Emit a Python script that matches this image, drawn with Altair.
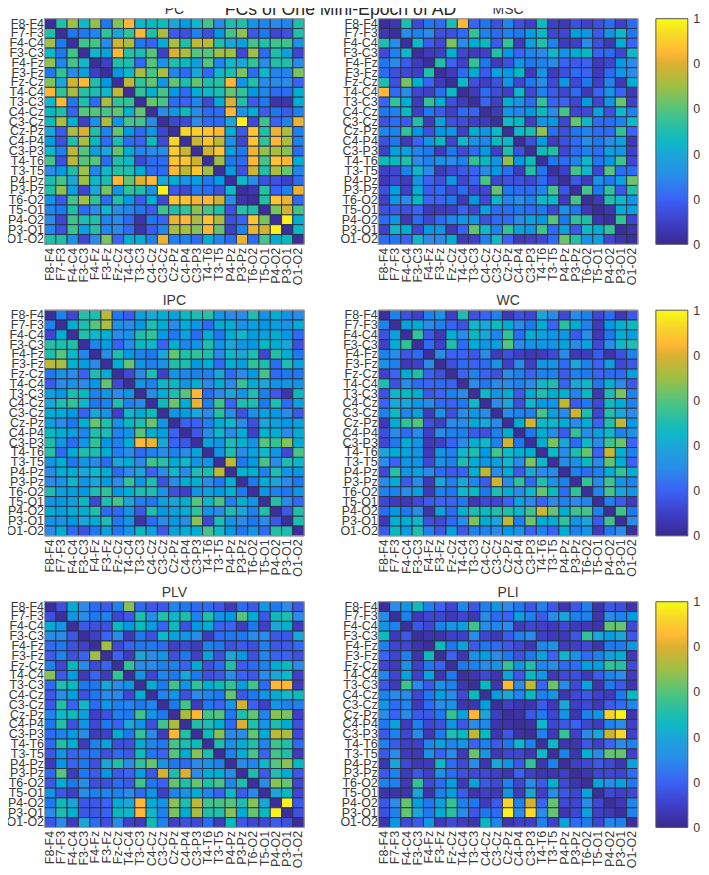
import altair as alt
import pandas as pd

CH = ["F8-F4","F7-F3","F4-C4","F3-C3","F4-Fz","F3-Fz","Fz-Cz","T4-C4","T3-C3","C4-Cz","C3-Cz","Cz-Pz","C4-P4","C3-P3","T4-T6","T3-T5","P4-Pz","P3-Pz","T6-O2","T5-O1","P4-O2","P3-O1","O1-O2"]

# Upper triangles
PC = [
[.52,.70,.45,.68,.25,.66,.85,.45,.47,.48,.40,.36,.45,.58,.30,.50,.52,.33,.28,.30,.28,.52],
[.25,.25,.28,.55,.40,.55,.85,.52,.72,.18,.15,.27,.15,.35,.58,.68,.17,.25,.12,.15,.52],
[.57,.58,.30,.78,.72,.25,.20,.42,.72,.52,.75,.75,.52,.40,.38,.58,.52,.57,.57,.32],
[.45,.38,.85,.53,.50,.60,.10,.80,.72,.60,.60,.70,.70,.12,.70,.22,.50,.38,.12],
[.10,.52,.50,.22,.60,.32,.52,.47,.38,.60,.28,.45,.40,.55,.30,.52,.52,.30],
[.35,.45,.72,.58,.72,.28,.22,.40,.22,.45,.50,.65,.22,.45,.28,.28,.65],
[.75,.55,.62,.33,.62,.50,.62,.52,.53,.85,.33,.52,.30,.30,.30,.20],
[.55,.43,.58,.35,.22,.42,.45,.50,.62,.55,.35,.28,.22,.22,.42],
[.62,.58,.22,.20,.28,.13,.42,.80,.52,.18,.25,.05,.05,.42],
[.30,.33,.48,.30,.22,.22,.85,.32,.42,.18,.25,.18,.27],
[.12,.13,.30,.22,.22,.40,.98,.13,.57,.20,.28,.82],
[.92,.90,.88,.85,.42,.17,.88,.52,.82,.72,.27],
[.77,.88,.75,.32,.12,.88,.55,.85,.72,.27],
[.78,.88,.37,.25,.83,.68,.72,.67,.22],
[.70,.25,.22,.85,.58,.88,.84,.42],
[.35,.15,.78,.52,.72,.62,.28],
[.45,.30,.15,.15,.10,.22],
[.05,.53,.20,.27,.82],
[.52,.88,.82,.22],
[.65,.78,.58],
[.98,.42],
[.47],
]
MSC = [
[.06,.50,.13,.25,.22,.50,.85,.20,.25,.15,.28,.15,.10,.48,.10,.07,.15,.10,.15,.22,.10,.22],
[.30,.27,.30,.15,.15,.22,.55,.27,.22,.27,.25,.37,.47,.12,.13,.37,.33,.18,.33,.45,.25],
[.45,.18,.13,.65,.30,.42,.47,.18,.55,.08,.38,.52,.27,.08,.10,.30,.15,.07,.42,.20],
[.08,.10,.43,.12,.08,.10,.52,.35,.20,.28,.30,.45,.33,.42,.47,.20,.22,.12,.45],
[.52,.20,.10,.55,.25,.08,.15,.33,.25,.27,.30,.20,.18,.20,.08,.12,.35,.30],
[.08,.22,.42,.18,.38,.35,.47,.08,.32,.08,.15,.22,.20,.08,.22,.33,.30],
[.45,.15,.10,.15,.33,.12,.25,.30,.13,.33,.13,.25,.10,.28,.07,.42],
[.08,.22,.14,.10,.45,.13,.27,.18,.12,.22,.07,.20,.33,.20,.07],
[.20,.10,.42,.32,.22,.55,.20,.20,.12,.35,.12,.33,.62,.10],
[.08,.33,.28,.35,.47,.30,.58,.12,.13,.38,.15,.45,.27],
[.45,.47,.10,.33,.35,.12,.62,.45,.22,.22,.27,.45],
[.45,.50,.68,.22,.15,.25,.28,.22,.22,.55,.20],
[.15,.35,.08,.15,.22,.30,.25,.30,.38,.07],
[.48,.52,.12,.22,.27,.22,.38,.33,.10],
[.25,.22,.28,.45,.25,.35,.57,.12],
[.10,.58,.45,.12,.60,.22,.22],
[.17,.08,.32,.25,.38,.63],
[.58,.25,.55,.17,.52],
[.07,.52,.45,.33],
[.06,.42,.38],
[.55,.12],
[.05],
]
IPC = [
[.27,.12,.52,.50,.75,.25,.18,.38,.40,.42,.38,.47,.50,.53,.33,.30,.30,.50,.33,.42,.33,.30],
[.42,.50,.60,.72,.32,.30,.35,.50,.42,.30,.42,.33,.22,.42,.42,.32,.38,.35,.37,.32,.42],
[.52,.45,.43,.30,.32,.50,.55,.35,.25,.38,.22,.42,.25,.42,.45,.37,.38,.42,.35,.22],
[.28,.37,.20,.30,.47,.45,.20,.43,.28,.33,.50,.33,.40,.33,.35,.47,.42,.40,.15],
[.30,.50,.35,.27,.25,.40,.62,.52,.55,.50,.30,.45,.40,.50,.12,.52,.42,.25],
[.42,.62,.33,.27,.32,.52,.50,.35,.42,.22,.42,.37,.55,.50,.22,.50,.38],
[.13,.30,.50,.10,.33,.28,.27,.27,.40,.22,.30,.35,.58,.22,.25,.25],
[.33,.27,.45,.47,.33,.42,.30,.42,.30,.55,.42,.40,.33,.33,.33],
[.30,.42,.50,.60,.85,.22,.30,.40,.33,.50,.27,.17,.05,.47],
[.48,.63,.42,.82,.27,.57,.20,.50,.50,.25,.50,.22,.38],
[.33,.37,.40,.30,.53,.30,.15,.32,.38,.35,.30,.17],
[.20,.20,.27,.42,.45,.30,.15,.40,.38,.35,.38],
[.17,.30,.45,.30,.42,.10,.43,.42,.30,.42],
[.38,.33,.50,.43,.33,.60,.55,.67,.42],
[.33,.50,.30,.38,.45,.33,.13,.58],
[.75,.25,.35,.58,.30,.50,.45],
[.43,.43,.27,.50,.33,.35],
[.25,.42,.40,.30,.25],
[.33,.27,.25,.33],
[.52,.30,.22],
[.17,.52],
[.50],
]
WC = [
[.27,.15,.10,.27,.32,.10,.50,.15,.20,.27,.07,.15,.12,.40,.30,.13,.30,.27,.12,.22,.07,.17],
[.38,.42,.30,.27,.20,.15,.45,.40,.48,.42,.30,.25,.42,.20,.53,.42,.27,.08,.35,.43,.47],
[.55,.17,.07,.42,.30,.47,.40,.28,.55,.22,.42,.38,.33,.33,.18,.30,.07,.25,.42,.37],
[.22,.10,.52,.22,.42,.33,.38,.60,.30,.33,.33,.33,.38,.30,.38,.13,.30,.45,.50],
[.30,.20,.20,.17,.30,.08,.15,.10,.07,.08,.13,.30,.07,.08,.18,.05,.15,.27],
[.15,.22,.20,.22,.32,.10,.30,.10,.33,.32,.22,.40,.27,.20,.38,.13,.17],
[.20,.27,.20,.15,.30,.27,.20,.27,.27,.18,.27,.25,.20,.22,.22,.37],
[.30,.25,.30,.30,.27,.30,.45,.50,.20,.40,.45,.25,.43,.30,.17],
[.45,.33,.42,.18,.42,.50,.42,.43,.28,.47,.07,.50,.65,.27],
[.30,.40,.15,.45,.35,.33,.75,.18,.25,.13,.48,.42,.27],
[.30,.27,.27,.58,.38,.30,.78,.50,.12,.52,.40,.30],
[.42,.78,.45,.45,.42,.30,.42,.20,.52,.75,.35],
[.25,.42,.30,.18,.55,.30,.38,.45,.27,.32],
[.42,.65,.40,.22,.45,.30,.57,.63,.20],
[.45,.30,.50,.62,.20,.77,.42,.27],
[.30,.32,.47,.30,.62,.42,.20],
[.27,.22,.27,.42,.55,.42],
[.55,.30,.57,.33,.27],
[.28,.58,.40,.33],
[.27,.18,.08],
[.57,.25],
[.30],
]
PLV = [
[.15,.42,.30,.22,.18,.27,.67,.22,.17,.17,.28,.25,.22,.22,.17,.08,.22,.17,.33,.25,.30,.17],
[.33,.30,.25,.27,.12,.17,.50,.30,.52,.45,.52,.27,.52,.33,.35,.60,.42,.17,.48,.50,.30],
[.17,.15,.15,.47,.35,.47,.37,.20,.48,.15,.35,.42,.20,.20,.08,.25,.10,.40,.43,.08],
[.10,.20,.30,.07,.25,.15,.45,.38,.33,.30,.08,.22,.25,.25,.30,.30,.17,.17,.40],
[.70,.13,.20,.25,.25,.22,.10,.13,.08,.27,.25,.15,.18,.15,.27,.17,.17,.22],
[.20,.08,.40,.30,.33,.15,.25,.10,.38,.15,.40,.35,.15,.28,.20,.20,.15],
[.55,.30,.30,.27,.27,.20,.42,.15,.22,.52,.18,.22,.27,.42,.47,.30],
[.33,.12,.28,.25,.40,.25,.15,.17,.30,.20,.17,.30,.40,.45,.10],
[.42,.25,.57,.33,.55,.42,.48,.55,.37,.57,.22,.85,.85,.08],
[.28,.33,.15,.30,.28,.25,.62,.17,.25,.33,.42,.45,.48],
[.25,.57,.08,.25,.20,.32,.78,.20,.10,.33,.27,.27],
[.72,.85,.58,.60,.25,.50,.62,.28,.67,.65,.10],
[.52,.50,.42,.22,.80,.52,.32,.50,.42,.15],
[.48,.67,.30,.30,.62,.42,.75,.72,.13],
[.50,.32,.42,.52,.28,.57,.52,.22],
[.27,.42,.58,.20,.58,.52,.08],
[.30,.28,.45,.60,.67,.47],
[.50,.18,.50,.42,.17],
[.30,.67,.62,.12],
[.40,.47,.12],
[.98,.18],
[.15],
]
PLI = [
[.30,.33,.48,.27,.20,.12,.28,.17,.27,.33,.30,.25,.17,.27,.17,.06,.17,.27,.05,.17,.15,.05],
[.27,.07,.12,.12,.08,.12,.07,.30,.22,.20,.38,.27,.18,.30,.40,.27,.27,.05,.30,.27,.35],
[.17,.12,.27,.32,.38,.57,.30,.28,.30,.08,.12,.10,.08,.13,.08,.07,.05,.62,.62,.13],
[.05,.05,.10,.10,.30,.12,.07,.18,.27,.30,.10,.07,.07,.17,.55,.40,.37,.40,.17],
[.48,.25,.38,.17,.25,.22,.17,.12,.07,.28,.32,.08,.10,.13,.05,.25,.25,.33],
[.20,.06,.32,.37,.30,.25,.15,.25,.38,.20,.45,.32,.22,.27,.38,.42,.07],
[.25,.27,.30,.32,.55,.33,.50,.28,.30,.22,.22,.37,.37,.55,.53,.13],
[.06,.13,.06,.38,.17,.47,.33,.07,.13,.15,.07,.18,.27,.30,.08],
[.47,.06,.85,.30,.75,.20,.63,.30,.13,.38,.05,.25,.17,.06],
[.37,.40,.28,.47,.27,.32,.06,.13,.17,.10,.08,.25,.47],
[.10,.06,.06,.18,.07,.40,.10,.13,.07,.18,.22,.28],
[.04,.17,.25,.12,.33,.06,.27,.33,.92,.98,.05],
[.04,.45,.12,.17,.20,.12,.08,.27,.30,.10],
[.27,.07,.55,.10,.30,.40,.78,.93,.10],
[.45,.06,.06,.17,.10,.20,.30,.27],
[.27,.06,.43,.30,.62,.62,.10],
[.10,.13,.17,.13,.06,.38],
[.06,.12,.12,.12,.22],
[.38,.30,.38,.25],
[.13,.10,.12],
[.07,.28],
[.27],
]
PANELS = [("PC", PC), ("MSC", MSC), ("IPC", IPC), ("WC", WC), ("PLV", PLV), ("PLI", PLI)]

STOPS = [0, .1, .2, .3, .4, .45, .5, .6, .7, .8, .85, .92, 1]
COLORS = ["#3a2a90", "#3f3fc8", "#3a62f5", "#2a8ce8", "#1ba6d8", "#0fb8c8", "#1dbdb0",
          "#55c47c", "#9fbf45", "#dcb030", "#ffb835", "#f8d42a", "#f9fb15"]
TICKS = [0, .2, .4, .6, .8, 1]
SUPTITLE = "FCs of One Mini-Epoch of AD"

FONT = "Liberation Sans"
LABEL = 12.5
W, H = 260, 226
color_scale = alt.Scale(domain=STOPS, range=COLORS, clamp=True)


def table(tri):
    rows = []
    for i, a in enumerate(CH):
        rows.append({"a": a, "b": a, "v": 0.02})
        for k, v in enumerate(tri[i] if i < len(tri) else []):
            b = CH[i + 1 + k]
            rows.append({"a": a, "b": b, "v": v})
            rows.append({"a": b, "b": a, "v": v})
    return pd.DataFrame(rows)


def panel_title(name):
    return alt.TitleParams(name, fontSize=14, font=FONT, fontWeight="normal", color="#3a3a3a", offset=0, dy=-0.5)


def panel(name, tri):
    x_ax = alt.Axis(title=None, labelAngle=270, labelFontSize=LABEL, labelFont=FONT, labelColor="#3a3a3a",
                    tickSize=0, labelPadding=3, domain=False, labelOverlap=False, labelAlign="right",
                    labelBaseline="middle", labelBound=False, labelFlush=False)
    y_ax = alt.Axis(title=None, labelFontSize=LABEL, labelFont=FONT, labelColor="#3a3a3a",
                    tickSize=0, labelPadding=1, domain=False, labelOverlap=False)
    cells = alt.Chart(table(tri)).mark_rect(stroke="#27304a", strokeWidth=0.9).encode(
        x=alt.X("b:N", sort=CH, axis=x_ax, scale=alt.Scale(paddingInner=0, paddingOuter=0, round=False)),
        y=alt.Y("a:N", sort=CH, axis=y_ax, scale=alt.Scale(paddingInner=0, paddingOuter=0, round=False)),
        color=alt.Color("v:Q", scale=color_scale, legend=None),
    )
    frame = alt.Chart(pd.DataFrame({"k": [0]})).mark_rect(fill=None, stroke="#a8a8a8", strokeWidth=1).encode(
        x=alt.value(0), x2=alt.value(W), y=alt.value(0), y2=alt.value(H))
    return alt.layer(cells, frame).properties(width=W, height=H, title=panel_title(name))


def colorbar():
    grad = alt.Gradient(gradient="linear", x1=0, x2=0, y1=1, y2=0,
                        stops=[alt.GradientStop(offset=s, color=c) for s, c in zip(STOPS, COLORS)])
    bar = alt.Chart(pd.DataFrame({"lo": [0], "hi": [1]})).mark_rect(color=grad, stroke="#555555", strokeWidth=1).encode(
        y=alt.Y("lo:Q", scale=alt.Scale(domain=[0, 1], nice=False),
                axis=alt.Axis(title=None, orient="right", values=TICKS, format="~g", grid=False, labelFontSize=LABEL,
                              labelFont=FONT, labelColor="#3a3a3a", tickSize=0, labelPadding=5, domain=False,
                              labelFlush=False, labelBound=False, labelOverlap=False)),
        y2="hi:Q",
    )
    return bar.properties(width=32, height=H, title=panel_title(" "))


head = alt.Chart(pd.DataFrame({"t": [SUPTITLE]})).mark_text(
    fontSize=17.7, font=FONT, color="#2a2a2a", align="center", baseline="alphabetic").encode(
    text="t:N", x=alt.value(296.4), y=alt.value(12)).properties(width=660, height=12)

rows = []
for r in range(3):
    left = panel(*PANELS[2 * r])
    right = panel(*PANELS[2 * r + 1])
    inner = alt.hconcat(right, colorbar(), spacing=16)
    rows.append(alt.hconcat(left, inner, spacing=34.3))

body = alt.vconcat(*rows, spacing=4)
chart = alt.vconcat(head, body, spacing=-28).properties(
    padding={"left": -2.4, "right": -9.5, "top": -11, "bottom": 0},
).configure_view(stroke=None)
chart.save("out.html", embed_options={"renderer": "svg", "actions": False})
